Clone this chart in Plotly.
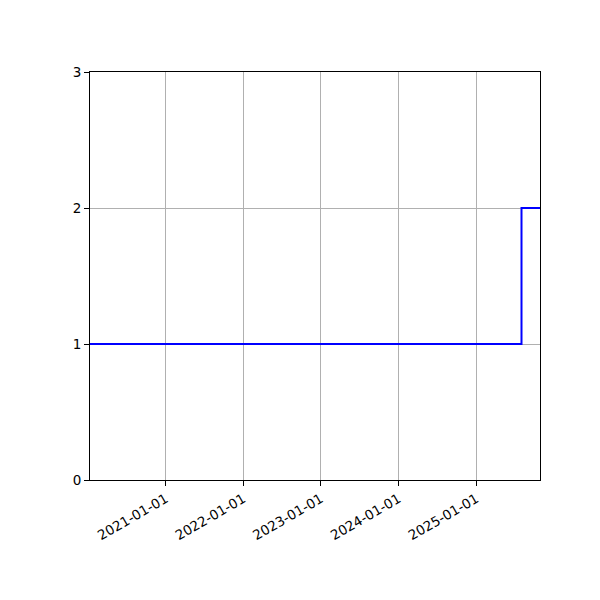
import plotly.graph_objects as go

dates = ["2020-01-11", "2025-08-01", "2025-10-27"]
values = [1, 2, 2]
x_ticks = ["2021-01-01", "2022-01-01", "2023-01-01", "2024-01-01", "2025-01-01"]
y_ticks = [0, 1, 2, 3]

fig = go.Figure()
fig.add_trace(go.Scatter(
    x=dates, y=values, mode="lines", line=dict(shape="hv", color="blue", width=2),
    showlegend=False, hoverinfo="skip",
))

axis_common = dict(
    showline=True, linecolor="black", linewidth=1, mirror=True,
    ticks="outside", ticklen=5, tickcolor="black", tickwidth=1,
    showgrid=True, gridcolor="#b0b0b0", gridwidth=1, zeroline=False,
    tickfont=dict(family="DejaVu Sans", size=13.5, color="black"),
)

fig.update_layout(
    width=600, height=600,
    margin=dict(l=82, r=68, t=64, b=128),
    paper_bgcolor="white", plot_bgcolor="white",
    xaxis=dict(
        range=[dates[0], dates[-1]], tickvals=x_ticks, ticktext=x_ticks,
        tickangle=-30, **axis_common,
    ),
    yaxis=dict(range=[0, 3], tickvals=y_ticks, **axis_common),
)

fig.write_html("out.html")
